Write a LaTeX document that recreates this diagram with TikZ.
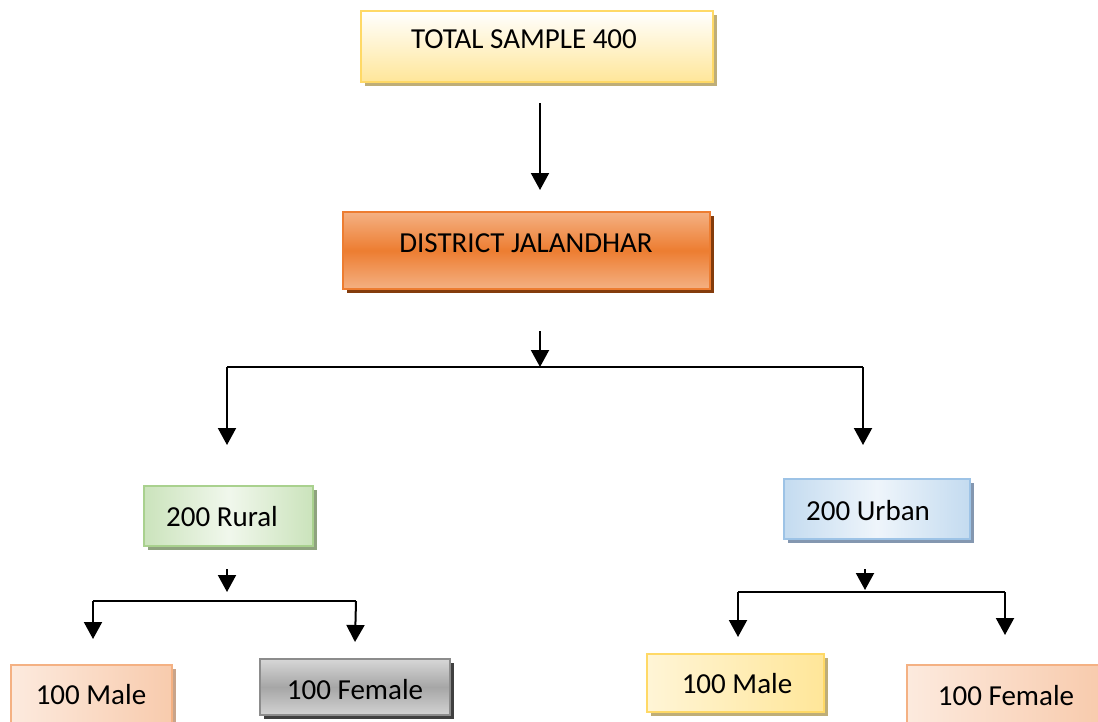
\documentclass[tikz,border=0pt]{standalone}
\usepackage{fontspec}
\setmainfont{Carlito}
\usetikzlibrary{arrows.meta,shadows}
\definecolor{ylborder}{HTML}{FFD966}
\definecolor{ylfill}{HTML}{FFE699}
\definecolor{ylshadow}{HTML}{BFAE78}
\definecolor{orborder}{HTML}{ED7D31}
\definecolor{orlight}{HTML}{F4B183}
\definecolor{orshadow}{HTML}{843C0C}
\definecolor{grborder}{HTML}{A9D18E}
\definecolor{grfill}{HTML}{C5E0B4}
\definecolor{grshadow}{HTML}{8FA37F}
\definecolor{blborder}{HTML}{9DC3E6}
\definecolor{blfill}{HTML}{BDD7EE}
\definecolor{blshadow}{HTML}{8497B0}
\definecolor{pkborder}{HTML}{F4B183}
\definecolor{pkfill}{HTML}{F8CBAD}
\definecolor{pkshadow}{HTML}{C9A48A}
\definecolor{gyborder}{HTML}{8C8C8C}
\definecolor{gyfill}{HTML}{A6A6A6}
\definecolor{gyshadow}{HTML}{404040}
\tikzset{
  box/.style={draw, line width=1.6pt, inner sep=0pt, outer sep=0pt},
  shad/.style={drop shadow={shadow xshift=4pt, shadow yshift=-4pt, fill=#1, opacity=1}},
  lbl/.style={font=\fontsize{29}{33}\selectfont, anchor=base, inner sep=0pt},
  arr/.style={line width=2pt, -{Triangle[width=18pt,length=17pt]}},
  ln/.style={line width=2pt},
}
\begin{document}
\begin{tikzpicture}[x=1pt,y=-1pt]
\clip (0,0) rectangle (1098,721);
\fill[white] (0,0) rectangle (1098,721);
% boxes
\node[box, shad=ylshadow, draw=ylborder, top color=white, bottom color=ylfill,
  minimum width=352pt, minimum height=71pt] (ts) at (537,46.5) {};
\node[box, shad=orshadow, draw=orborder, top color=orlight, bottom color=orlight, middle color=orborder,
  minimum width=367pt, minimum height=77pt] (dj) at (526.5,250.5) {};
\node[box, shad=grshadow, draw=grborder, shading=axis, shading angle=125, left color=grfill!90, right color=grfill!90, middle color=grfill!25,
  minimum width=169pt, minimum height=60pt] (ru) at (228.5,516) {};
\node[box, shad=blshadow, draw=blborder, shading=axis, shading angle=125, left color=blfill!90, right color=blfill!90, middle color=blfill!25,
  minimum width=186pt, minimum height=60pt] (ur) at (877,509) {};
\node[box, shad=pkshadow, draw=pkborder, shading=axis, shading angle=-60, left color=pkfill!40, right color=pkfill,
  minimum width=161pt, minimum height=65pt] (m1) at (91.5,697.5) {};
\node[box, shad=gyshadow, draw=gyborder, top color=gyfill!45, bottom color=gyfill!50, middle color=gyfill,
  minimum width=190pt, minimum height=56pt] (f1) at (355,687) {};
\node[box, shad=ylshadow, draw=ylborder, shading=axis, shading angle=-60, left color=ylfill!40, right color=ylfill,
  minimum width=177pt, minimum height=58pt] (m2) at (735.5,683) {};
\node[box, draw=pkborder, shading=axis, shading angle=-60, left color=pkfill!40, right color=pkfill,
  minimum width=193pt, minimum height=65pt] (f2) at (1003.5,697.5) {};
% labels
\node[lbl] (tsl) at (524,48) {TOTAL SAMPLE 400};
\node[lbl] (djl) at (526,252) {DISTRICT JALANDHAR};
\node[lbl] (rul) at (222,526) {200 Rural};
\node[lbl] (url) at (868,520) {200 Urban};
\node[lbl] (m1l) at (91,704) {100 Male};
\node[lbl] (f1l) at (355,699) {100 Female};
\node[lbl] (m2l) at (737,693) {100 Male};
\node[lbl] (f2l) at (1006,705) {100 Female};
% connector points
\coordinate (a1s) at (540,103); \coordinate (a1e) at (540,190);
\coordinate (a2s) at (540,331); \coordinate (a2e) at (540,367);
\coordinate (hl) at (227,367); \coordinate (hr) at (863,367);
\coordinate (hle) at (227,445); \coordinate (hre) at (863,445);
\coordinate (rs) at (227,569); \coordinate (re) at (227,592);
\coordinate (rl) at (93,601); \coordinate (rr) at (356,601);
\coordinate (rle) at (93,639); \coordinate (rre) at (355,642);
\coordinate (us) at (865,569); \coordinate (ue) at (865,590);
\coordinate (ul) at (738,592); \coordinate (uur) at (1005,592);
\coordinate (ule) at (738,637); \coordinate (ure) at (1005,635);
% connectors
\draw[arr] (a1s) -- (a1e);
\draw[arr] (a2s) -- (a2e);
\draw[ln] (hl) -- (hr);
\draw[arr] (hl) -- (hle);
\draw[arr] (hr) -- (hre);
\draw[arr] (rs) -- (re);
\draw[ln] (rl) -- (rr);
\draw[arr] (rl) -- (rle);
\draw[arr] (rr) -- (rre);
\draw[arr] (us) -- (ue);
\draw[ln] (ul) -- (uur);
\draw[arr] (ul) -- (ule);
\draw[arr] (uur) -- (ure);
\end{tikzpicture}
\end{document}
